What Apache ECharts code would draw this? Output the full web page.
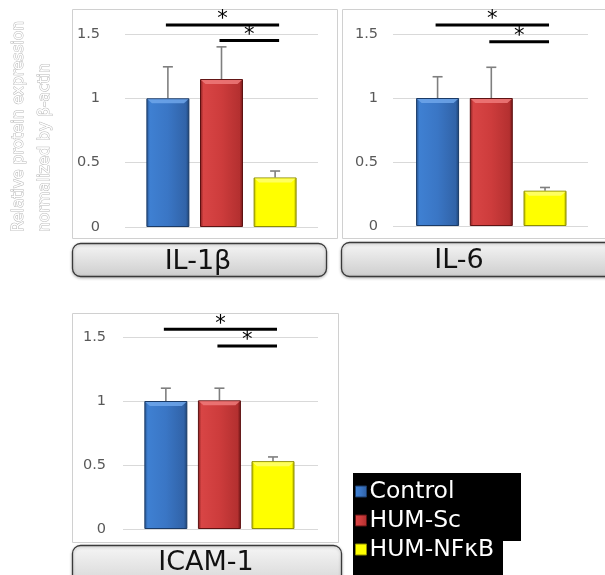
<!DOCTYPE html>
<html><head><meta charset="utf-8">
<script src="https://cdn.jsdelivr.net/npm/echarts@6/dist/echarts.min.js"></script>
<style>html,body{margin:0;padding:0;background:#fff;}#c{width:605px;height:575px;}</style>
</head><body><div id="c"></div>
<script>
// ---- data ----
const groups = ['Control', 'HUM-Sc', 'HUM-NFκB'];
const panelNames = ['IL-1β', 'IL-6', 'ICAM-1'];
const il1bMean = [1.0, 1.15, 0.385];
const il1bErr = [0.245, 0.25, 0.05];
const il6Mean = [1.0, 1.0, 0.276];
const il6Err = [0.166, 0.24, 0.025];
const icamMean = [1.0, 1.005, 0.53];
const icamErr = [0.10, 0.095, 0.033];
const yTicks = [0, 0.5, 1, 1.5];
const sigPairs = [[0, 2], [1, 2]];
const il1bSig = [1.57, 1.45];
const il6Sig = [1.57, 1.44];
const icamSig = [1.56, 1.43];
const yTitle = ['Relative protein expression', 'normalized by β-actin'];

const means = [il1bMean, il6Mean, icamMean];
const errs = [il1bErr, il6Err, icamErr];
const sigs = [il1bSig, il6Sig, icamSig];

// ---- layout / style ----
const layouts = [
  {grid: {left: 125, top: 34, width: 193, height: 193}, xmin: -0.8, xmax: 2.8, margin: 25,
   box: [72, 9, 265, 229], tbox: [72, 243, 254, 33], tx: 198, ty: 262},
  {grid: {left: 393, top: 34, width: 195, height: 192}, xmin: -0.83, xmax: 2.8, margin: 15,
   box: [342, 9, 300, 229], tbox: [341, 242, 300, 34], tx: 459, ty: 261},
  {grid: {left: 123, top: 337, width: 195, height: 192}, xmin: -0.8, xmax: 2.84, margin: 17,
   box: [72, 313, 266, 229], tbox: [72, 545, 269, 50], tx: 206, ty: 563}
];
function hgrad(stops) {
  return {type: 'linear', x: 0, y: 0, x2: 1, y2: 0,
    colorStops: stops.map(s => ({offset: s[0], color: s[1]}))};
}
const barColors = [
  hgrad([[0, '#24528e'], [0.08, '#3f80d2'], [0.5, '#3a76c5'], [0.92, '#3163a8'], [1, '#1c406f']]),
  hgrad([[0, '#7f1c1c'], [0.08, '#d84545'], [0.5, '#cd3c3c'], [0.92, '#b43030'], [1, '#6e1616']]),
  hgrad([[0, '#b0b000'], [0.07, '#ffff00'], [0.93, '#ffff00'], [1, '#a8a800']])
];
const barBorders = ['#1a3a66', '#5e1212', '#8f8f00'];
const bevelColors = ['#6fa6ea', '#ee7a7a', '#ffff70'];
const FONT = 'DejaVu Sans';

const grids = [], xAxes = [], yAxes = [], series = [];
layouts.forEach((L, p) => {
  grids.push(L.grid);
  xAxes.push({type: 'value', gridIndex: p, min: L.xmin, max: L.xmax, show: false});
  yAxes.push({type: 'value', gridIndex: p, min: yTicks[0], max: yTicks[yTicks.length - 1], interval: 0.5,
    axisLine: {show: false}, axisTick: {show: false},
    axisLabel: {margin: L.margin, color: '#595959', fontFamily: FONT, fontSize: 14.5,
      formatter: v => String(v)},
    splitLine: {show: true, lineStyle: {color: '#d9d9d9', width: 1}}});
  groups.forEach((g, i) => {
    series.push({type: 'bar', name: g, xAxisIndex: p, yAxisIndex: p,
      barWidth: 43, barGap: '-100%', z: 3,
      itemStyle: {color: barColors[i], borderColor: barBorders[i], borderWidth: 1},
      data: [[i, means[p][i]]]});
  });
  // top bevel highlight of each bar (drawn through the axes)
  series.push({type: 'custom', xAxisIndex: p, yAxisIndex: p, z: 5, clip: false,
    encode: {x: 0, y: 1},
    data: means[p].map((m, i) => [i, m]),
    renderItem: (params, api) => {
      const c = api.coord([api.value(0), api.value(1)]);
      const i = params.dataIndex;
      return {type: 'polygon', shape: {points: [[c[0] - 20.5, c[1] + 1], [c[0] + 20.5, c[1] + 1], [c[0] + 16, c[1] + 5], [c[0] - 16, c[1] + 5]]},
        style: {fill: bevelColors[i], opacity: 0.85}};
    }});
  series.push({type: 'custom', xAxisIndex: p, yAxisIndex: p, z: 2, clip: false,
    encode: {x: 0, y: 1},
    data: means[p].map((m, i) => [i, m, errs[p][i]]),
    renderItem: (params, api) => {
      const x = api.value(0), m = api.value(1), e = api.value(2);
      const p0 = api.coord([x, m]), p1 = api.coord([x, m + e]);
      const st = {stroke: '#7f7f7f', lineWidth: 1.6};
      return {type: 'group', children: [
        {type: 'line', shape: {x1: p0[0], y1: p0[1], x2: p1[0], y2: p1[1]}, style: st},
        {type: 'line', shape: {x1: p1[0] - 5, y1: p1[1], x2: p1[0] + 5, y2: p1[1]}, style: st}
      ]};
    }});
  series.push({type: 'custom', xAxisIndex: p, yAxisIndex: p, z: 4, clip: false,
    encode: {x: [0, 1], y: 2},
    data: sigPairs.map((pr, i) => [pr[0], pr[1], sigs[p][i]]),
    renderItem: (params, api) => {
      const a = api.coord([api.value(0), api.value(2)]);
      const b = api.coord([api.value(1), api.value(2)]);
      const x1 = a[0] - 2, x2 = b[0] + 4;
      return {type: 'group', children: [
        {type: 'line', shape: {x1: x1, y1: a[1], x2: x2, y2: a[1]},
          style: {stroke: '#000', lineWidth: 3}},
        {type: 'text', x: (x1 + x2) / 2, y: a[1] - 5,
          style: {text: '*', fill: '#000', font: '21px ' + FONT, align: 'center', verticalAlign: 'middle'}}
      ]};
    }});
});

const graphics = [];
layouts.forEach((L, p) => {
  graphics.push({type: 'rect', z: 0, shape: {x: L.box[0] + 0.5, y: L.box[1] + 0.5, width: L.box[2], height: L.box[3]},
    style: {fill: 'none', stroke: '#d0d0d0', lineWidth: 1}});
  graphics.push({type: 'rect', z: 0, shape: {x: L.tbox[0] + 0.5, y: L.tbox[1] + 0.5, width: L.tbox[2], height: L.tbox[3], r: 8},
    style: {fill: {type: 'linear', x: 0, y: 0, x2: 0, y2: 1,
      colorStops: [{offset: 0, color: '#f6f6f6'}, {offset: 1, color: '#cdcdcd'}]},
      stroke: '#3a3a3a', lineWidth: 1.3, shadowColor: 'rgba(0,0,0,0.25)', shadowBlur: 3, shadowOffsetY: 1}});
  graphics.push({type: 'text', z: 1, x: L.tx, y: L.ty,
    style: {text: panelNames[p], fill: '#111', font: '27px ' + FONT, align: 'center', verticalAlign: 'middle'}});
});
// y-axis title (outlined text)
[[19, 232], [45, 232]].forEach((pos, i) => {
  graphics.push({type: 'text', z: 1, x: pos[0], y: pos[1], rotation: Math.PI / 2,
    style: {text: yTitle[i], fill: '#ffffff', stroke: '#b8b8b8', lineWidth: 1,
      font: '15.5px ' + FONT, align: 'left', verticalAlign: 'middle'}});
});
// legend black background
graphics.push({type: 'rect', z: 0, shape: {x: 353, y: 473, width: 168, height: 68}, style: {fill: '#000'}});
graphics.push({type: 'rect', z: 0, shape: {x: 353, y: 540, width: 150, height: 40}, style: {fill: '#000'}});

const option = {
  animation: false,
  backgroundColor: '#fff',
  grid: grids, xAxis: xAxes, yAxis: yAxes, series: series,
  legend: {show: true, orient: 'vertical', left: 355, top: 479, padding: 0, itemGap: 4,
    icon: 'rect', itemWidth: 11, itemHeight: 11, z: 10,
    data: groups.map((g, i) => ({name: g, itemStyle: {color: barColors[i], borderColor: barBorders[i], borderWidth: 1}})),
    textStyle: {color: '#fff', fontFamily: FONT, fontSize: 23.5, lineHeight: 25, padding: [0, 0, 0, -2]}},
  graphic: {elements: graphics}
};
const chart = echarts.init(document.getElementById('c'), null, {renderer: 'canvas'});
chart.setOption(option);
</script></body></html>
